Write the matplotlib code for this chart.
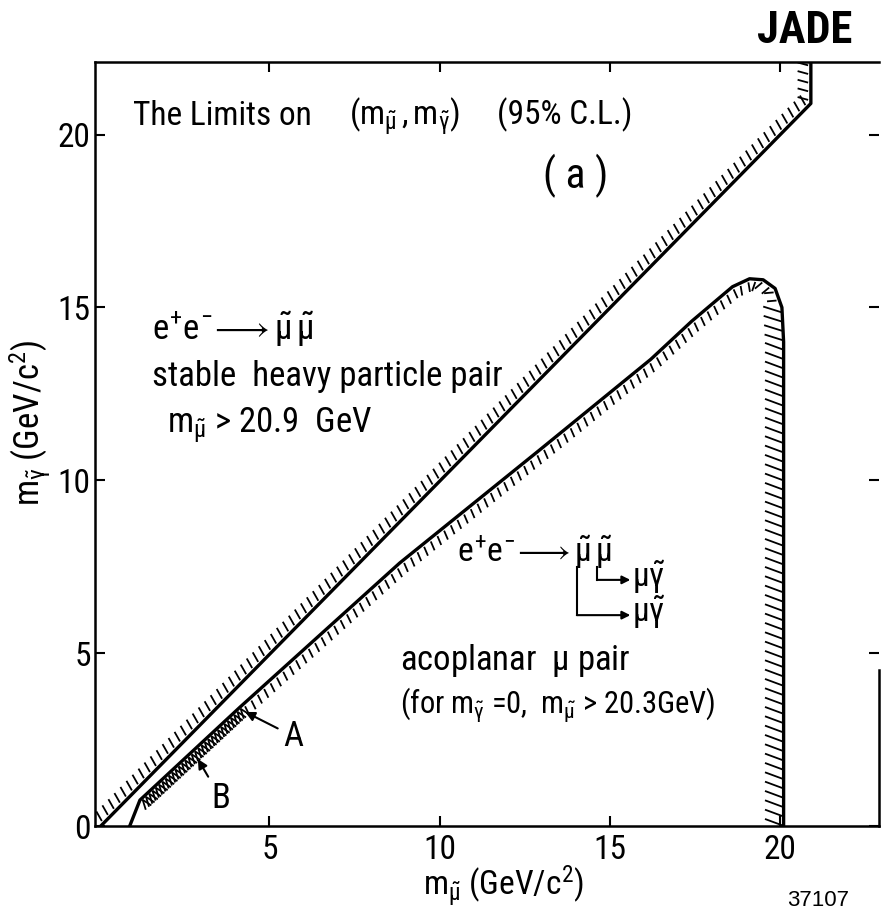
import numpy as np
import matplotlib
matplotlib.use("Agg")
import matplotlib.pyplot as plt
from matplotlib import font_manager as fm
from matplotlib.collections import LineCollection

# pick a narrow sans face if one is installed
narrow, stretch = 'Roboto', 'normal'
fonts = fm.fontManager.ttflist
for cand in ['Liberation Sans Narrow', 'Roboto Condensed', 'Noto Sans Condensed',
             'Open Sans Condensed', 'DejaVu Sans Condensed']:
    if any(f.name == cand for f in fonts):
        narrow = cand
        break
else:
    for fam in ['Noto Sans', 'DejaVu Sans', 'Open Sans', 'Roboto', 'Liberation Sans']:
        if any(f.name == fam and f.stretch == 'condensed' for f in fonts):
            narrow, stretch = fam, 'condensed'
            break

plt.rcParams['font.family'] = [narrow, 'DejaVu Sans']
plt.rcParams['font.stretch'] = stretch
plt.rcParams['mathtext.fontset'] = 'custom'
pat = narrow if stretch == 'normal' else narrow + ':condensed'
plt.rcParams['mathtext.rm'] = pat
plt.rcParams['mathtext.it'] = pat
plt.rcParams['mathtext.sf'] = pat

# stable smuon limit: m_photino = m_smuon up to 20.9 GeV, then vertical
stable_x = [0.05, 20.9, 20.9]
stable_y = [0.0, 20.9, 22.3]

# acoplanar muon pair limit
acop_x = [0.9, 1.2, 4.14, 8.83, 12.94, 16.2, 17.4, 18.6, 19.1, 19.5, 19.85, 20.05, 20.1, 20.1]
acop_y = [0.0, 0.75, 3.44, 7.61, 10.88, 13.5, 14.6, 15.6, 15.83, 15.8, 15.55, 15.0, 14.0, 0.0]

xticks = [5, 10, 15, 20]
yticks = [0, 5, 10, 15, 20]


def hatch(ax, xs, ys, side, step, length, gap, tilt, lw=1.3):
    pts = np.column_stack([xs, ys]).astype(float)
    seg = np.diff(pts, axis=0)
    seglen = np.hypot(seg[:, 0], seg[:, 1])
    cum = np.concatenate([[0], np.cumsum(seglen)])
    ang = np.deg2rad(tilt)
    c, s = np.cos(ang), np.sin(ang)
    lines = []
    for si in np.arange(step / 2, cum[-1], step):
        i = int(np.clip(np.searchsorted(cum, si) - 1, 0, len(seg) - 1))
        t = seg[i] / seglen[i]
        p = pts[i] + t * (si - cum[i])
        n = np.array([-t[1], t[0]]) * side
        d = np.array([n[0] * c - n[1] * s, n[0] * s + n[1] * c])
        a = p + n * gap
        lines.append([a, a + d * length])
    ax.add_collection(LineCollection(lines, colors='k', linewidths=lw))


fig = plt.figure(figsize=(8.81, 9.17), dpi=100)
ax = fig.add_axes([0.1078, 0.0992, 0.8899, 0.8332])
ax.set_xlim(-0.12, 22.9)
ax.set_ylim(0, 22.1)

ax.plot(stable_x, stable_y, color='k', lw=2.4)
ax.plot(acop_x, acop_y, color='k', lw=2.4)

hatch(ax, stable_x, stable_y, 1, 0.25, 0.32, 0.08, -15)
hatch(ax, acop_x[2:12], acop_y[2:12], -1, 0.25, 0.28, 0.08, -15)
hatch(ax, acop_x[11:], acop_y[11:], -1, 0.27, 0.55, 0.03, -20)
# dense band near B
hatch(ax, acop_x[1:3], acop_y[1:3], -1, 0.13, 0.3, 0.05, 15)
hatch(ax, acop_x[1:3], acop_y[1:3], -1, 0.13, 0.3, 0.05, -25)

for sp in ax.spines.values():
    sp.set_linewidth(1.8)
ax.spines['right'].set_bounds(0, 4.5)

ax.set_xticks(xticks)
ax.set_yticks(yticks)
ax.tick_params(direction='in', length=7, width=1.5, labelsize=24, pad=6,
               top=True, right=True)
ax.tick_params(axis='y', pad=3)

fs = 25
# title line, three pieces with wide gaps
ax.text(1.0, 20.29, 'The Limits on', fontsize=24, va='baseline')
ax.text(7.35, 20.29, r'$(m_{\tilde{\mu}}\,,m_{\tilde{\gamma}})$', fontsize=24, va='baseline')
ax.text(15.65, 20.29, '(95% C.L.)', fontsize=24, va='baseline', ha='right')
ax.text(14.0, 18.8, '( a )', fontsize=30, ha='center', va='center')

ax.text(1.56, 14.4, r'$e^{+}e^{-}\!\longrightarrow\tilde{\mu}\,\tilde{\mu}$',
        fontsize=fs, va='center')
ax.text(1.56, 13.0, 'stable  heavy particle pair', fontsize=fs, va='center')
ax.text(2.0, 11.6, r'$m_{\tilde{\mu}}$ > 20.9  GeV', fontsize=fs, va='center')

ax.text(10.5, 7.64, r'$e^{+}e^{-}\!\longrightarrow\tilde{\mu}\,\tilde{\mu}$',
        fontsize=24, va='baseline')
ax.annotate('', xy=(15.6, 7.12), xytext=(14.62, 7.12),
            arrowprops=dict(arrowstyle='-|>', lw=1.5, color='k', mutation_scale=12,
                            shrinkA=0, shrinkB=0))
ax.plot([14.62, 14.62], [7.5, 7.12], color='k', lw=1.5)
ax.annotate('', xy=(15.6, 6.1), xytext=(14.03, 6.1),
            arrowprops=dict(arrowstyle='-|>', lw=1.5, color='k', mutation_scale=12,
                            shrinkA=0, shrinkB=0))
ax.plot([14.03, 14.03], [7.5, 6.1], color='k', lw=1.5)
ax.text(15.65, 6.92, r'$\mu\tilde{\gamma}$', fontsize=24, va='baseline')
ax.text(15.65, 5.9, r'$\mu\tilde{\gamma}$', fontsize=24, va='baseline')

ax.text(8.83, 4.8, r'acoplanar  $\mu$ pair', fontsize=fs, va='center')
ax.text(8.83, 3.5, r'(for $m_{\tilde{\gamma}}$ =0,  $m_{\tilde{\mu}}$ > 20.3GeV)',
        fontsize=22, va='center')

ax.annotate('A', xy=(4.29, 3.30), xytext=(5.4, 2.6), fontsize=fs, va='center',
            arrowprops=dict(arrowstyle='-|>', lw=1.5, color='k', mutation_scale=14,
                            shrinkA=2, shrinkB=0))
ax.annotate('B', xy=(2.9, 1.94), xytext=(3.3, 0.8), fontsize=fs, va='center',
            arrowprops=dict(arrowstyle='-|>', lw=1.5, color='k', mutation_scale=14,
                            shrinkA=2, shrinkB=0))

fig.text(30 / 881, 1 - 423 / 917, r'$m_{\tilde{\gamma}}$ (GeV/c$^{2}$)', rotation=90,
         fontsize=25, ha='center', va='center')
fig.text(503 / 881, 1 - 886 / 917, r'$m_{\tilde{\mu}}$ (GeV/c$^{2}$)',
         fontsize=24, ha='center', va='center')
fig.text(852 / 881, 1 - 31 / 917, 'JADE', fontsize=32, fontweight='bold',
         ha='right', va='center')
fig.text(818 / 881, 1 - 901 / 917, '37107', fontsize=16, family='Liberation Sans',
         stretch='normal', ha='center', va='center')

fig.savefig('out.png', dpi=100)
